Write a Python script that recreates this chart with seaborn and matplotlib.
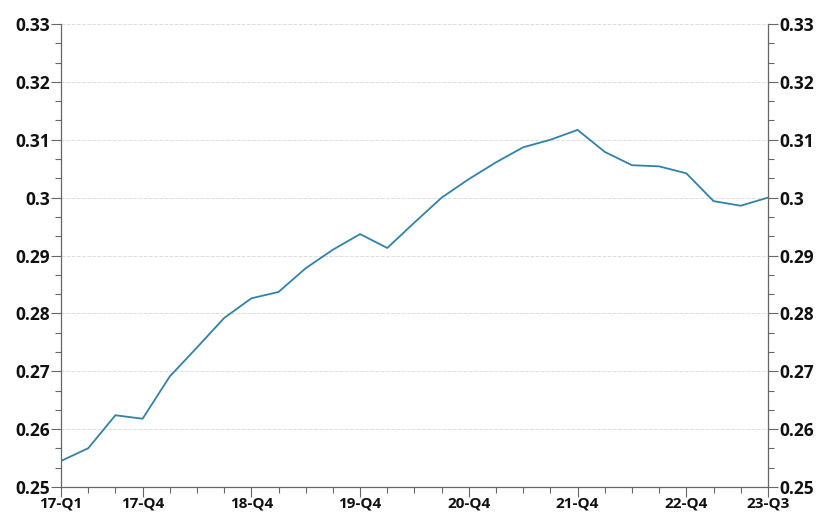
import numpy as np
import pandas as pd
import seaborn as sns
from matplotlib import pyplot as plt
from matplotlib.ticker import FixedLocator, FuncFormatter

quarters = [f'{y}-Q{q}' for y in range(17, 24) for q in range(1, 5)][:27]
values = [0.2545, 0.2567, 0.2624, 0.2618, 0.2691, 0.2741, 0.2792, 0.2826,
          0.2837, 0.2878, 0.2910, 0.2937, 0.2913, 0.2957, 0.3000, 0.3032,
          0.3061, 0.3087, 0.3100, 0.3117, 0.3079, 0.3056, 0.3054, 0.3042,
          0.2994, 0.2986, 0.3000]
shown_labels = ['17-Q1', '17-Q4', '18-Q4', '19-Q4', '20-Q4', '21-Q4', '22-Q4', '23-Q3']
y_major = [0.25, 0.26, 0.27, 0.28, 0.29, 0.30, 0.31, 0.32, 0.33]

df = pd.DataFrame({'pos': np.arange(len(quarters)), 'quarter': quarters, 'value': values})

sns.set_style('white')
plt.rcParams['font.family'] = ['Open Sans', 'DejaVu Sans']

fig = plt.figure(figsize=(8.29, 5.18), dpi=100)
ax = fig.add_axes([0.0736, 0.0598, 0.8527, 0.8939])

sns.lineplot(data=df, x='pos', y='value', ax=ax, color='#3282a8', linewidth=1.3)

ax.set_xlim(0, len(quarters) - 1)
ax.set_ylim(0.25, 0.33)

major_x = [quarters.index(q) for q in shown_labels]
minor_x = [i for i in range(len(quarters)) if i not in major_x]
ax.set_xticks(major_x)
ax.set_xticklabels(shown_labels)
ax.xaxis.set_minor_locator(FixedLocator(minor_x))

ax.set_yticks(y_major)
ax.yaxis.set_major_formatter(FuncFormatter(lambda v, p: f'{round(v, 4):g}'))
minor_y = [0.25 + k * 0.01 / 3 for k in range(25) if k % 3]
ax.yaxis.set_minor_locator(FixedLocator(minor_y))

ax.grid(axis='y', which='major', color='#dddddd', linestyle='--', linewidth=0.7)
ax.set_axisbelow(True)

for side in ['left', 'right', 'bottom']:
    ax.spines[side].set_color('#666666')
    ax.spines[side].set_linewidth(0.9)
ax.spines['top'].set_visible(False)

ax.tick_params(axis='y', which='both', left=True, right=True, labelleft=True, labelright=True,
               color='#666666', width=0.8)
ax.tick_params(axis='y', which='major', length=7, pad=1, labelsize=12.5)
ax.tick_params(axis='y', which='minor', length=4)
ax.tick_params(axis='x', which='both', bottom=True, color='#666666', width=0.8)
ax.tick_params(axis='x', which='major', length=7, pad=0, labelsize=11)
ax.tick_params(axis='x', which='minor', length=4)
for lbl in ax.get_yticklabels() + ax.get_xticklabels():
    lbl.set_fontweight('bold')
    lbl.set_color('#111111')

ax.set_xlabel('')
ax.set_ylabel('')

fig.savefig('out.png', dpi=100)
